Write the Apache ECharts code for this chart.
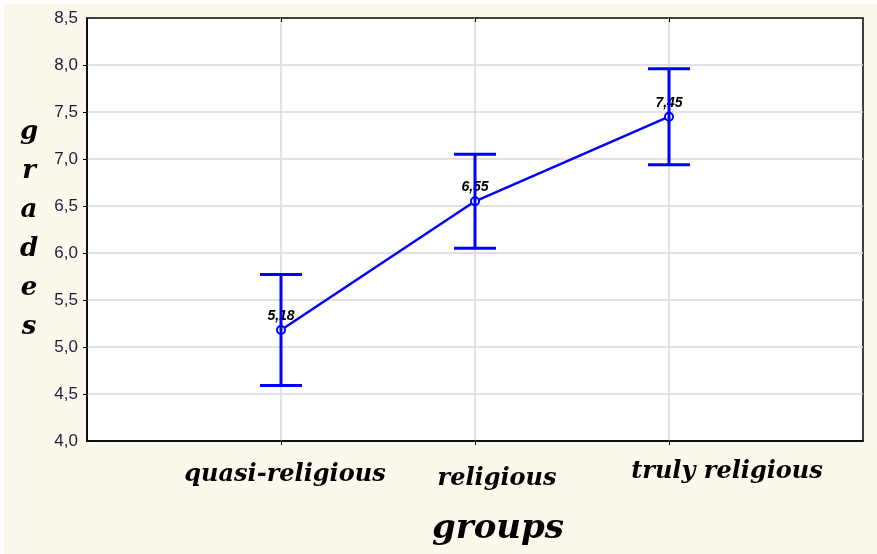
<!DOCTYPE html>
<html>
<head>
<meta charset="utf-8">
<script src="https://cdn.jsdelivr.net/npm/echarts@6/dist/echarts.min.js"></script>
<style>
html,body{margin:0;padding:0;background:#ffffff;}
#c{width:877px;height:554px;}
</style>
</head>
<body>
<div id="c"></div>
<script>
// ---- data ----
const categories = ['quasi-religious', 'religious', 'truly religious'];
const categoryPositions = [1, 2, 3];
const means = [5.18, 6.55, 7.45];
const upperBounds = [5.77, 7.05, 7.96];
const lowerBounds = [4.59, 6.05, 6.94];
const yInnerTicks = [4.5, 5.0, 5.5, 6.0, 6.5, 7.0, 7.5, 8.0];
const yAxisTitle = 'grades';
const xAxisTitle = 'groups';

const BLUE = '#0000ff';
const SERIF = '"DejaVu Serif", "Liberation Serif", serif';
const comma = (v, d) => v.toFixed(d).replace('.', ',');

const chart = echarts.init(document.getElementById('c'));

const lineData = means.map((m, i) => [categoryPositions[i], m]);
const errData = means.map((m, i) => [categoryPositions[i], lowerBounds[i], upperBounds[i]]);
const richKeys = ['c0', 'c1', 'c2'];
const catStyle = { fontFamily: SERIF, fontStyle: 'italic', fontWeight: 'bold', fontSize: 24, color: '#000' };

chart.setOption({
  animation: false,
  backgroundColor: '#ffffff',
  graphic: [{
    type: 'rect', left: 4, top: 4, z: -10, silent: true,
    shape: { width: 873, height: 550 },
    style: { fill: '#fdf8ec' }
  }],
  grid: {
    left: 87, top: 18, width: 776, height: 423,
    show: true, backgroundColor: '#ffffff',
    borderColor: '#000000', borderWidth: 1.5
  },
  xAxis: [{
    type: 'value', min: 0, max: 4, interval: 1,
    name: xAxisTitle, nameLocation: 'middle', nameGap: 88,
    nameTextStyle: {
      fontFamily: SERIF, fontStyle: 'italic', fontWeight: 'bold',
      fontSize: 34, color: '#000', verticalAlign: 'middle',
      padding: [0, 0, 0, 46]
    },
    axisLine: { show: true, lineStyle: { color: '#000', width: 1.5 } },
    axisTick: { show: true, length: 4, customValues: categoryPositions, lineStyle: { color: '#000', width: 1 } },
    splitLine: { show: true, lineStyle: { color: '#d9d9d9', width: 1.5 } },
    axisLabel: {
      margin: 19,
      formatter: v => {
        const i = categoryPositions.indexOf(v);
        return i >= 0 ? '{' + richKeys[i] + '|' + categories[i] + '}' : '';
      },
      rich: {
        c0: Object.assign({ padding: [3, 0, 0, 8] }, catStyle),
        c1: Object.assign({ padding: [7, 0, 0, 44] }, catStyle),
        c2: Object.assign({ padding: [0, 0, 0, 116] }, catStyle)
      }
    }
  }, {
    type: 'value', position: 'top', min: 0, max: 4, interval: 1,
    axisLine: { show: false },
    axisTick: { show: true, inside: true, length: 4, customValues: categoryPositions, lineStyle: { color: '#000' } },
    axisLabel: { show: false },
    splitLine: { show: false }
  }],
  yAxis: [{
    type: 'value', min: 4, max: 8.5, interval: 0.5,
    name: yAxisTitle.split('').join('\n'),
    nameLocation: 'middle', nameRotate: 0, nameGap: 58,
    nameTextStyle: {
      fontFamily: SERIF, fontStyle: 'italic', fontWeight: 'bold',
      fontSize: 26, lineHeight: 39, color: '#000', align: 'center',
      padding: [0, 0, 28, 0]
    },
    axisLine: { show: true, lineStyle: { color: '#000', width: 1.5 } },
    axisTick: { show: true, length: 4, customValues: yInnerTicks, lineStyle: { color: '#000', width: 1 } },
    splitLine: { show: true, lineStyle: { color: '#d9d9d9', width: 1.5 } },
    axisLabel: {
      margin: 9, fontFamily: '"Liberation Sans", Arial, sans-serif',
      fontSize: 17, color: '#1c1c38',
      formatter: v => comma(v, 1)
    }
  }, {
    type: 'value', position: 'right', min: 4, max: 8.5, interval: 0.5,
    axisLine: { show: false },
    axisTick: { show: true, inside: true, length: 4, customValues: yInnerTicks, lineStyle: { color: '#000' } },
    axisLabel: { show: false },
    splitLine: { show: false }
  }],
  series: [{
    type: 'line',
    data: lineData,
    lineStyle: { color: BLUE, width: 2.5 },
    itemStyle: { color: BLUE, borderColor: BLUE, borderWidth: 1 },
    symbol: 'emptyCircle', symbolSize: 8,
    z: 3,
    label: {
      show: true, position: 'top', distance: 2,
      fontFamily: '"Liberation Sans", Arial, sans-serif',
      fontStyle: 'italic', fontWeight: 'bold', fontSize: 14, color: '#000',
      formatter: p => comma(p.value[1], 2)
    }
  }, {
    type: 'custom',
    data: errData,
    z: 4,
    renderItem: (params, api) => {
      const x = api.value(0);
      const lo = api.coord([x, api.value(1)]);
      const hi = api.coord([x, api.value(2)]);
      const hw = 21;
      const style = { stroke: BLUE, lineWidth: 3 };
      return {
        type: 'group',
        children: [
          { type: 'line', shape: { x1: lo[0], y1: lo[1], x2: hi[0], y2: hi[1] }, style },
          { type: 'line', shape: { x1: hi[0] - hw, y1: hi[1], x2: hi[0] + hw, y2: hi[1] }, style },
          { type: 'line', shape: { x1: lo[0] - hw, y1: lo[1], x2: lo[0] + hw, y2: lo[1] }, style }
        ]
      };
    }
  }]
});
</script>
</body>
</html>
